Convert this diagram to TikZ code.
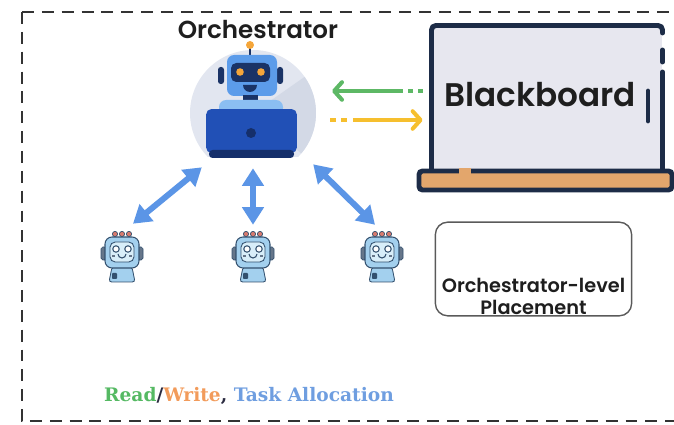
\documentclass[tikz,border=0pt]{standalone}
\usepackage{fontspec}
\newfontfamily\headfont{Poppins}[BoldFont={Poppins SemiBold}]
\newfontfamily\legendfont{DejaVu Serif}
\usetikzlibrary{arrows.meta}

\tikzset{
  % small worker bot, origin at the middle of the icon
  worker/.pic={
    \foreach \bx in {-7,0,7}
      \filldraw[fill=bumpred,draw=botline,line width=0.4pt] (\bx,-24) circle (2.6);
    \filldraw[fill=eargray,draw=botline,line width=0.4pt,rounded corners=1pt] (-21,-11) rectangle (-16,2);
    \filldraw[fill=eargray,draw=botline,line width=0.4pt,rounded corners=1pt] (16,-11) rectangle (21,2);
    \filldraw[fill=botblue,draw=botline,line width=0.5pt,rounded corners=1.5pt]
      (-10,9) -- (10,9) -- (13,24) -- (-13,24) -- cycle;
    \fill[botline,rounded corners=0.5pt] (-10,15) rectangle (-5,21);
    \filldraw[fill=botblue,draw=botline,line width=0.6pt,rounded corners=4pt] (-17,-21) rectangle (17,10);
    \filldraw[fill=botface,draw=botline,line width=0.5pt,rounded corners=3pt] (-12,-16) rectangle (12,4);
    \foreach \ex in {-6,6}
      \filldraw[fill=white,draw=botline,line width=0.6pt] (\ex,-9) circle (3.2);
    \draw[botline,line width=0.6pt] (-4,-4) arc[start angle=180,end angle=0,radius=4];
    \draw[eargray,line width=0.8pt] (-10,-2) -- (-7,-2) (7,-2) -- (10,-2);
  }
}

\begin{document}
\begin{tikzpicture}[
  x=0.02cm,y=-0.02cm,
  frame/.style={draw=framegray,line width=1.7pt,dash pattern=on 6.8pt off 4.5pt},
  dbl/.style={{Triangle[length=10pt,width=12pt]}-{Triangle[length=10pt,width=12pt]},
    line width=3.4pt,draw=taskc},
  rw/.style={-{Straight Barb[length=4.5pt,width=10pt,round]},line width=2.3pt},
  bbline/.style={draw=bbnavy,line width=2.8pt,line cap=round},
  wslot/.style={inner sep=0pt,minimum width=26pt,minimum height=29.5pt},
  head/.style={font=\headfont\bfseries\fontsize{14}{16}\selectfont,text=titleblack},
  placebox/.style={draw=placegray,line width=0.8pt,rounded corners=7pt,fill=white,
    minimum width=111.7pt,minimum height=53.3pt,inner sep=0pt},
  placetxt/.style={font=\headfont\bfseries\fontsize{11}{12.5}\selectfont,align=center,text=titleblack},
  legend/.style={font=\legendfont\bfseries\fontsize{10.6}{12}\selectfont,text=slashc}]

  \definecolor{framegray}{HTML}{333333}
  \definecolor{titleblack}{HTML}{1E1E1E}
  \definecolor{hubc}{HTML}{E2E6F0}
  \definecolor{hubdark}{HTML}{D3D9E6}
  \definecolor{headblue}{HTML}{5C9CEA}
  \definecolor{bodyblue}{HTML}{8BBEF2}
  \definecolor{facenavy}{HTML}{1A3366}
  \definecolor{eyeorange}{HTML}{F5A63A}
  \definecolor{lapc}{HTML}{2150B6}
  \definecolor{lapnavy}{HTML}{152F6B}
  \definecolor{bbnavy}{HTML}{1D2C47}
  \definecolor{bbfill}{HTML}{E7E7EF}
  \definecolor{trayc}{HTML}{E3A66C}
  \definecolor{readc}{HTML}{5DB865}
  \definecolor{writec}{HTML}{F6BF2E}
  \definecolor{taskc}{HTML}{5B95E6}
  \definecolor{readtxt}{HTML}{55B963}
  \definecolor{writetxt}{HTML}{F29B5B}
  \definecolor{tasktxt}{HTML}{6F9EE0}
  \definecolor{slashc}{HTML}{2A2A40}
  \definecolor{placegray}{HTML}{5A5A5A}
  \definecolor{botblue}{HTML}{A3D0EE}
  \definecolor{botface}{HTML}{D8EEF9}
  \definecolor{botline}{HTML}{33506E}
  \definecolor{eargray}{HTML}{66768A}
  \definecolor{bumpred}{HTML}{D87A6E}

  \useasboundingbox (0,0) rectangle (674,425);

  % ================= outer frame (open on the right) =================
  \draw[frame] (22,12) -- (674,12);
  \draw[frame] (22,12) -- (22,421) -- (674,421);

  % ================= orchestrator =================
  \node[head] (title) at (258,30) {Orchestrator};

  \begin{scope}
    \clip (180,40) rectangle (330,157);
    \fill[hubc] (253,113) circle (63);
    \fill[hubdark] (253,113) -- ++(-35:63) arc[start angle=-35,end angle=40,radius=63] -- cycle;
  \end{scope}
  \node[circle,minimum size=71.4pt,inner sep=0pt] (orch) at (253,113) {};

  % antenna + head
  \draw[facenavy,line width=1.2pt] (250,57) -- (250,48);
  \fill[eyeorange] (250,45) circle (4);
  \fill[facenavy,rounded corners=1.5pt] (218,67) rectangle (224,84);
  \fill[facenavy,rounded corners=1.5pt] (277,67) rectangle (283,84);
  \fill[headblue,rounded corners=4pt] (227,55) rectangle (277,96);
  \fill[facenavy,rounded corners=3pt] (231,63) rectangle (270,82);
  \fill[eyeorange] (240,72) circle (3.8);
  \fill[eyeorange] (261,72) circle (3.8);
  \fill[facenavy] (257,85) arc[start angle=0,end angle=180,radius=7] -- cycle;
  \fill[facenavy] (243,95) rectangle (258,101);
  \fill[bodyblue,rounded corners=4pt] (219,100) rectangle (283,115);

  % laptop
  \node[fill=lapc,rounded corners=3pt,minimum width=51.6pt,minimum height=25pt,inner sep=0pt]
    (lap) at (251.5,131) {};
  \fill[lapnavy,rounded corners=2pt] (209,150) rectangle (294,158);
  \fill[lapnavy] (251,133) circle (5);

  % ================= blackboard =================
  \node[fill=bbfill,minimum width=131pt,minimum height=82.2pt,inner sep=0pt] (board) at (547,98) {};
  \filldraw[fill=trayc,draw=bbnavy,line width=2.8pt,rounded corners=2pt] (419,171) rectangle (672,190);
  \fill[trayc] (459,168) rectangle (471,174);
  \draw[bbline,rounded corners=2.5pt] (431.5,170) -- (431.5,25.5) -- (662.5,25.5) -- (662.5,33);
  \draw[bbline] (662.5,50) -- (662.5,62);
  \draw[bbline] (662.5,72) -- (662.5,170);
  \draw[bbline] (648,91) -- (648,121);
  \node[font=\headfont\bfseries\fontsize{18.6}{20}\selectfont,text=titleblack] (bbtitle) at (540,95) {Blackboard};

  % read / write
  \draw[rw,readc,dash pattern=on 2.8pt off 2.8pt on 2.8pt off 2.8pt on 60pt]
    ([shift={(-9,-7)}]board.west) -- ([shift={(16,-22)}]orch.east);
  \draw[rw,writec,dash pattern=on 3.4pt off 2.8pt on 3.4pt off 3.4pt on 60pt]
    ([shift={(14,7)}]orch.east) -- ([shift={(-9,22)}]board.west);

  % ================= workers =================
  \foreach \i/\wx in {1/122,2/253,3/382} {
    \node[wslot] (w\i) at (\wx,258) {};
    \pic at (w\i) {worker};
  }

  % task allocation
  \draw[dbl] ([shift={(-4,14)}]lap.south west) -- ([shift={(11,-8)}]w1.north);
  \draw[dbl] ([shift={(1.5,15)}]lap.south) -- ([shift={(0,-7)}]w2.north);
  \draw[dbl] ([shift={(16,11)}]lap.south east) -- ([shift={(-7,-7)}]w3.north);

  % ================= placement box + legend =================
  \node[placebox] (place) at (533.5,269) {};
  \node[placetxt] (placelbl) at (533.5,296) {Orchestrator-level\\Placement};

  \node[legend] (leg) at (249,396)
    {\textcolor{readtxt}{Read}/\textcolor{writetxt}{Write}, \textcolor{tasktxt}{Task Allocation}};
\end{tikzpicture}
\end{document}
